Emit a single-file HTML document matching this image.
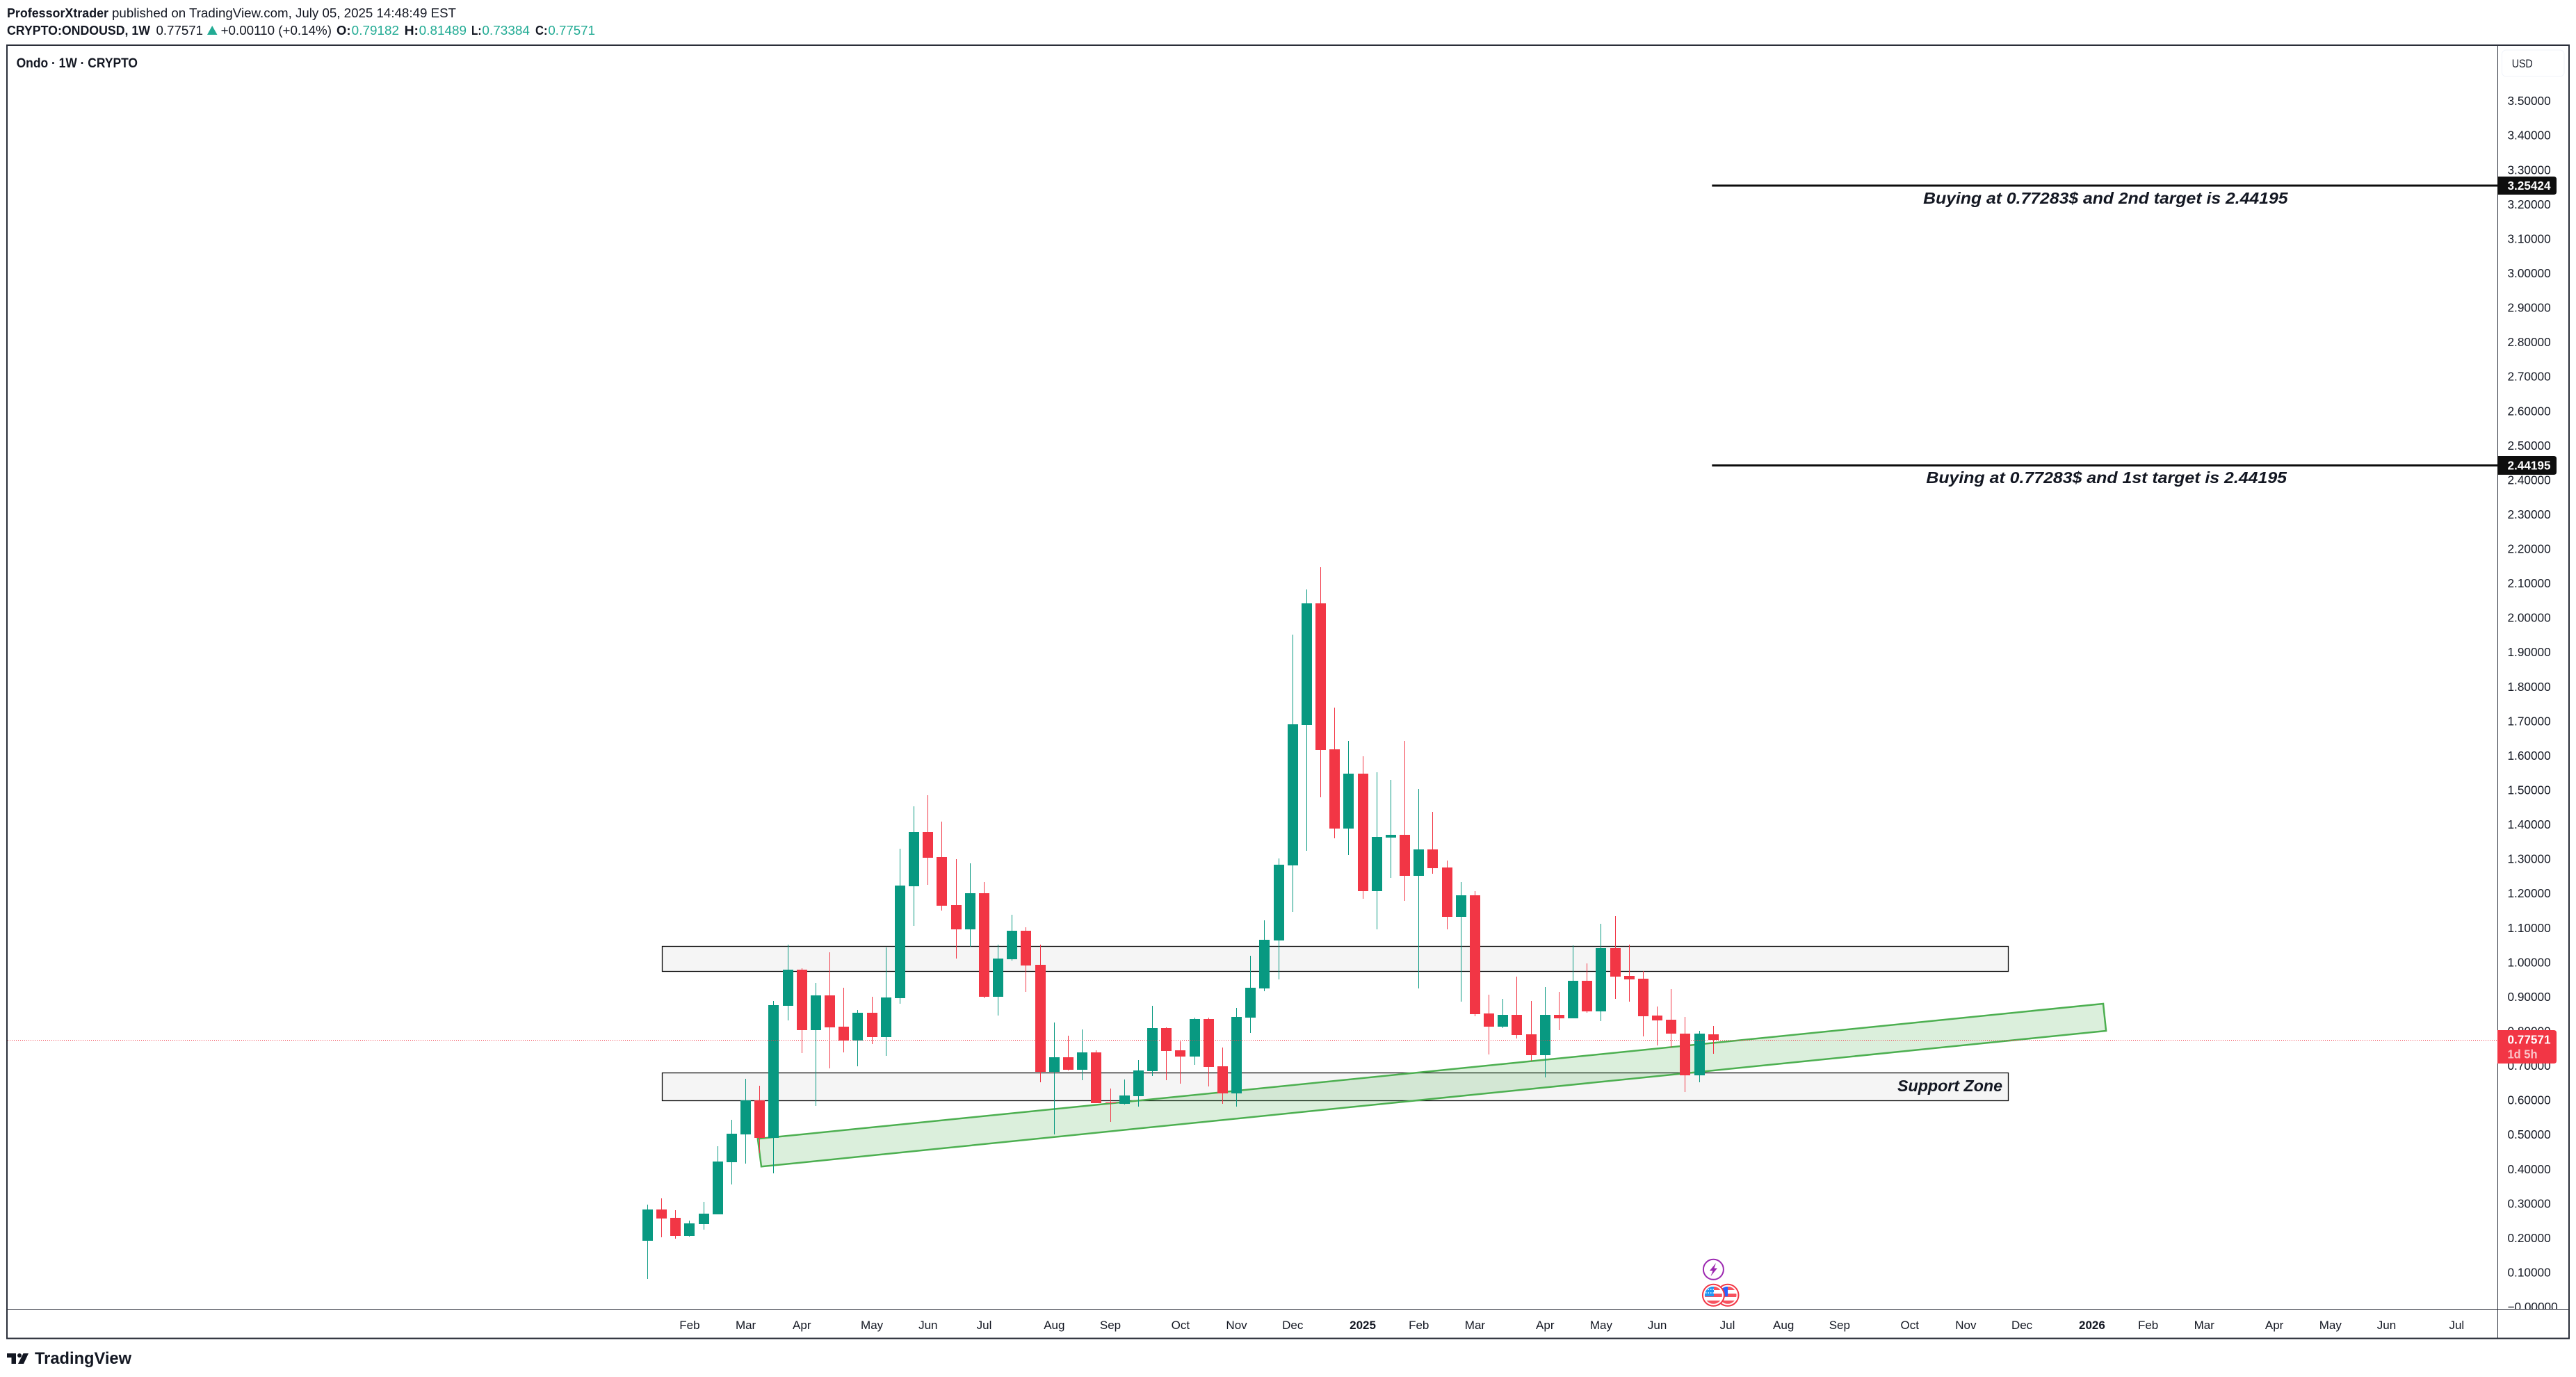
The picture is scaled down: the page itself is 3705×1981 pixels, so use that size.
<!DOCTYPE html>
<html lang="en">
<head>
<meta charset="utf-8">
<title>ONDOUSD 1W chart</title>
<style>
html,body{margin:0;padding:0;background:#fff;width:3705px;height:1981px;overflow:hidden}
svg{display:block;font-family:"Liberation Sans",sans-serif}
</style>
</head>
<body>
<svg id="chart" xmlns="http://www.w3.org/2000/svg" width="3705" height="1981" viewBox="0 0 3705 1981">
  <defs>
    <clipPath id="axis-clip"><rect x="3593" y="66" width="101" height="1817"></rect></clipPath>
    <clipPath id="flag-clip-a"><circle cx="2464.4" cy="1863.3" r="12.5"></circle></clipPath>
    <clipPath id="flag-clip-b"><circle cx="2485" cy="1863.3" r="12.5"></circle></clipPath>
  </defs>
  <rect x="0" y="0" width="3705" height="1981" fill="#ffffff"></rect>

  <text x="10" y="25" font-size="18" font-weight="700" fill="#131722" textLength="146" lengthAdjust="spacingAndGlyphs">ProfessorXtrader</text>
  <text x="161" y="25" font-size="18" fill="#131722" textLength="495" lengthAdjust="spacingAndGlyphs">published on TradingView.com, July 05, 2025 14:48:49 EST</text>

  <text x="10" y="50" font-size="18" font-weight="700" fill="#131722" textLength="206" lengthAdjust="spacingAndGlyphs">CRYPTO:ONDOUSD, 1W</text>
  <text x="224.5" y="50" font-size="18" fill="#131722" textLength="67.5" lengthAdjust="spacingAndGlyphs">0.77571</text>
  <polygon points="298,50 312.5,50 305.2,37" fill="#22ab94"></polygon>
  <text x="317.6" y="50" font-size="18" fill="#131722" textLength="159.4" lengthAdjust="spacingAndGlyphs">+0.00110 (+0.14%)</text>
  <text x="484" y="50" font-size="18" font-weight="700" fill="#131722" textLength="20.5" lengthAdjust="spacingAndGlyphs">O:</text>
  <text x="505.7" y="50" font-size="18" fill="#22ab94" textLength="68.3" lengthAdjust="spacingAndGlyphs">0.79182</text>
  <text x="581.6" y="50" font-size="18" font-weight="700" fill="#131722" textLength="20.4" lengthAdjust="spacingAndGlyphs">H:</text>
  <text x="602.7" y="50" font-size="18" fill="#22ab94" textLength="68.3" lengthAdjust="spacingAndGlyphs">0.81489</text>
  <text x="678" y="50" font-size="18" font-weight="700" fill="#131722" textLength="14.5" lengthAdjust="spacingAndGlyphs">L:</text>
  <text x="693.4" y="50" font-size="18" fill="#22ab94" textLength="68.6" lengthAdjust="spacingAndGlyphs">0.73384</text>
  <text x="770" y="50" font-size="18" font-weight="700" fill="#131722" textLength="17.5" lengthAdjust="spacingAndGlyphs">C:</text>
  <text x="788.4" y="50" font-size="18" fill="#22ab94" textLength="67.6" lengthAdjust="spacingAndGlyphs">0.77571</text>

  <g id="layer-zones"></g>
  <g id="layer-channel"></g>
  <g id="layer-targets"></g>
  <g id="layer-candles"></g>
  <g id="layer-last"></g>

  <text x="23.6" y="97" font-size="19" font-weight="700" fill="#131722" textLength="174.4" lengthAdjust="spacingAndGlyphs">Ondo · 1W · CRYPTO</text>

  <text x="2766.2" y="293" font-size="23" font-weight="700" font-style="italic" fill="#131722" textLength="524.3" lengthAdjust="spacingAndGlyphs">Buying at 0.77283$ and 2nd target is 2.44195</text>
  <text x="2770.4" y="695" font-size="23" font-weight="700" font-style="italic" fill="#131722" textLength="518.6" lengthAdjust="spacingAndGlyphs">Buying at 0.77283$ and 1st target is 2.44195</text>
  <text x="2729" y="1570" font-size="23" font-weight="700" font-style="italic" fill="#131722" textLength="151" lengthAdjust="spacingAndGlyphs">Support Zone</text>

  <g>
    <circle cx="2464.4" cy="1826.3" r="14.5" fill="#ffffff" stroke="#9c27b0" stroke-width="2"></circle>
    <polygon points="2468,1817 2459,1828 2463.5,1828 2460.5,1836 2470,1824.5 2465.5,1824.5" fill="#9c27b0"></polygon>
  </g>
  <g>
    <circle cx="2485" cy="1863.3" r="15.5" fill="#ffffff" stroke="#f23645" stroke-width="2"></circle>
    <g clip-path="url(#flag-clip-b)">
      <rect x="2472" y="1851" width="26" height="5" fill="#f7525f"></rect>
      <rect x="2472" y="1861" width="26" height="5" fill="#f7525f"></rect>
      <rect x="2472" y="1871" width="26" height="6" fill="#f7525f"></rect>
      <rect x="2472" y="1851" width="13" height="14" fill="#2962ff"></rect>
    </g>
  </g>
  <g>
    <circle cx="2464.4" cy="1863.3" r="15.5" fill="#ffffff" stroke="#f23645" stroke-width="2"></circle>
    <g clip-path="url(#flag-clip-a)">
      <rect x="2451" y="1851" width="27" height="5" fill="#f7525f"></rect>
      <rect x="2451" y="1861" width="27" height="5" fill="#f7525f"></rect>
      <rect x="2451" y="1871" width="27" height="6" fill="#f7525f"></rect>
      <rect x="2451" y="1851" width="14" height="14" fill="#2196f3"></rect>
      <line x1="2453" y1="1855" x2="2465" y2="1855" stroke="#fff" stroke-width="1.5" stroke-dasharray="1.5 2"></line>
      <line x1="2453" y1="1860" x2="2465" y2="1860" stroke="#fff" stroke-width="1.5" stroke-dasharray="1.5 2"></line>
    </g>
  </g>

  <rect x="10" y="65" width="3685" height="1860.5" fill="none" stroke="#2a2e39" stroke-width="2"></rect>
  <line x1="3592.5" y1="65" x2="3592.5" y2="1925" stroke="#2a2e39" stroke-width="1"></line>

  <g id="layer-price-axis" clip-path="url(#axis-clip)"></g>
  <line x1="10" y1="1883.5" x2="3695" y2="1883.5" stroke="#2a2e39" stroke-width="1"></line>
  <g id="layer-time-axis"></g>
  <g id="layer-tags"></g>

  <rect x="3598.5" y="72" width="89.5" height="38" rx="6" fill="#ffffff" stroke="#f0f3fa" stroke-width="1"></rect>
  <text x="3612.7" y="97" font-size="17" fill="#131722" textLength="30" lengthAdjust="spacingAndGlyphs">USD</text>

  <g>
    <polygon points="10,1947 23,1947 23,1962 16.5,1962 16.5,1953 10,1953" fill="#131722"></polygon>
    <circle cx="28" cy="1950" r="3" fill="#131722"></circle>
    <polygon points="33.5,1947 41,1947 34,1962 26,1962" fill="#131722"></polygon>
    <text x="50" y="1962" font-size="24" font-weight="700" fill="#131722" textLength="139" lengthAdjust="spacingAndGlyphs">TradingView</text>
  </g>
</svg>

<script>
// ---- OHLC, one entry per weekly bar ----
const opens = [.1918,.2826,.2584,.2059,.2402,.2684,.4198,.5004,.5993,.4904,.8737,.9786,.8030,.9039,.8131,.7728,.8535,.7829,.8958,1.2206,1.3780,1.3054,1.1662,1.0956,1.2005,.8999,1.0088,1.0915,.9927,.6820,.7244,.6881,.7385,.5932,.5892,.6114,.6840,.8091,.7445,.7264,.8353,.6981,.6195,.8394,.9241,1.0633,1.2811,1.6886,2.0417,1.6181,1.3881,1.5475,1.2065,1.3619,1.3699,1.2509,1.3276,1.2751,1.1319,1.1944,.8515,.8131,.8474,.7909,.7304,.8474,.8373,.9463,.8575,1.0411,.9604,.9523,.8454,.8333,.7930,.6719,.79182];
const highs = [.2967,.3148,.2806,.2503,.3048,.4662,.5428,.6618,.6417,.8878,1.0512,.9826,.9402,1.0290,.9261,.8615,.8999,1.0431,1.3296,1.4526,1.4849,1.4082,1.2993,1.2872,1.2327,1.0512,1.1379,1.1016,1.0512,.8252,.7869,.8051,.7445,.6336,.6598,.7163,.8737,.8111,.7708,.8394,.8394,.7526,.8676,1.0189,1.1218,1.3013,1.9509,2.0820,2.1466,1.7391,1.6422,1.5979,1.5515,1.5293,1.6422,1.5031,1.4365,1.2953,1.2327,1.2065,.9059,.8938,.9584,.8878,.9281,.9140,1.0492,.9967,1.1117,1.1339,1.0512,.9745,.8716,.9221,.8414,.8010,.81489];
const lows = [.0808,.2019,.1978,.2039,.2241,.2684,.3552,.4157,.4460,.3875,.8313,.7365,.5832,.6921,.7385,.6981,.7627,.7284,.8797,1.1056,1.2247,1.1500,1.0108,1.0451,.8958,.8454,1.0048,.9140,.6517,.5004,.6860,.6578,.5912,.5368,.5872,.5811,.6699,.6578,.6477,.7022,.6396,.5892,.5811,.7950,.9159,.9503,1.1460,1.3235,1.4789,1.3598,1.3114,1.1843,1.0956,1.2448,1.1783,.9241,1.2570,1.0956,.8858,.8434,.7324,.8091,.7788,.7143,.6659,.8030,.8373,.8535,.8293,.8938,.8858,.7849,.7587,.7526,.6235,.6517,.73384];
const closes = [.2826,.2563,.2059,.2422,.2705,.4218,.5025,.5993,.4904,.8757,.9786,.8030,.9039,.8111,.7728,.8535,.7829,.8979,1.2227,1.3780,1.3033,1.1642,1.0956,1.2005,.8999,1.0108,1.0915,.9907,.6820,.7244,.6881,.7385,.5912,.5912,.6134,.6860,.8091,.7425,.7264,.8353,.6961,.6195,.8414,.9261,1.0653,1.2832,1.6907,2.0417,1.6160,1.3881,1.5475,1.2065,1.3639,1.3699,1.2509,1.3276,1.2731,1.1319,1.1944,.8494,.8131,.8474,.7889,.7304,.8474,.8373,.9463,.8575,1.0411,.9584,.9503,.8434,.8313,.7930,.6719,.7930,.77571];

// ---- Axis labels ----
const priceTickLabels = ["3.50000","3.40000","3.30000","3.20000","3.10000","3.00000","2.90000","2.80000","2.70000","2.60000","2.50000","2.40000","2.30000","2.20000","2.10000","2.00000","1.90000","1.80000","1.70000","1.60000","1.50000","1.40000","1.30000","1.20000","1.10000","1.00000","0.90000","0.80000","0.70000","0.60000","0.50000","0.40000","0.30000","0.20000","0.10000","−0.00000"];
const timeTickLabels = ["Feb","Mar","Apr","May","Jun","Jul","Aug","Sep","Oct","Nov","Dec","2025","Feb","Mar","Apr","May","Jun","Jul","Aug","Sep","Oct","Nov","Dec","2026","Feb","Mar","Apr","May","Jun","Jul"];
const timeTickBars = [3,7,11,16,20,24,29,33,38,42,46,51,55,59,64,68,72,77,81,85,90,94,98,103,107,111,116,120,124,129];

// ---- Drawing anchors in chart units (bar index / price) ----
const zoneStartBar = 1.04;
const zoneEndBar = 97.04;
const upperZonePrices = [1.0465, .9739];
const lowerZonePrices = [.6794, .5987];
const channelBars = [7.86, 103.8, 104.0, 8.11];
const channelPrices = [.4878, .8797, .8010, .4070];
const targetStartBar = 75.9;
const targetPrices = [3.25424, 2.44195];
const lastPrice = .77571;
const lastPriceCountdown = "1d 5h";

// ---- Axis functions ----
const xScale = bar => 931.4 + 20.17 * bar;
const yScale = price => 1880.07 - 495.7 * price;

const SVG_NS = "http://www.w3.org/2000/svg";
function make(tag, attrs, parent, text) {
  const node = document.createElementNS(SVG_NS, tag);
  for (const key in attrs) node.setAttribute(key, attrs[key]);
  if (text !== undefined) node.textContent = text;
  parent.appendChild(node);
  return node;
}

const zonesLayer = document.getElementById("layer-zones");
const channelLayer = document.getElementById("layer-channel");
const targetsLayer = document.getElementById("layer-targets");
const candlesLayer = document.getElementById("layer-candles");
const lastLayer = document.getElementById("layer-last");
const priceAxisLayer = document.getElementById("layer-price-axis");
const timeAxisLayer = document.getElementById("layer-time-axis");
const tagsLayer = document.getElementById("layer-tags");

// Zones
[upperZonePrices, lowerZonePrices].forEach(function (zone, i) {
  const top = yScale(zone[0]);
  const bottom = yScale(zone[1]);
  const el = make("rect", {
    x: Math.round(xScale(zoneStartBar)) + 0.5,
    y: Math.round(top) + 0.5,
    width: Math.round(xScale(zoneEndBar) - xScale(zoneStartBar)),
    height: Math.round(bottom - top),
    fill: "#f5f5f5",
    stroke: "#0c0c0c",
    "stroke-width": 1.3
  }, zonesLayer);
  
  
});

// Channel
const channelPoints = channelBars.map(function (b, i) {
  return xScale(b).toFixed(1) + "," + yScale(channelPrices[i]).toFixed(1);
}).join(" ");
const channelEl = make("polygon", {
  points: channelPoints,
  fill: "rgba(76,175,80,0.2)",
  stroke: "#4caf50",
  "stroke-width": 2.5
}, channelLayer);



// Target lines
targetPrices.forEach(function (price) {
  const y = yScale(price);
  const el = make("line", {
    x1: xScale(targetStartBar),
    y1: y,
    x2: 3592,
    y2: y,
    stroke: "#0c0c0c",
    "stroke-width": 3
  }, targetsLayer);
  
  
});

// Candles
closes.forEach(function (close, i) {
  const open = opens[i];
  const color = close >= open ? "#089981" : "#f23645";
  const left = Math.round(xScale(i) - 7.5);
  const wick = make("rect", {
    x: left + 7,
    y: Math.round(yScale(highs[i])),
    width: 1,
    height: Math.max(1, Math.round(yScale(lows[i])) - Math.round(yScale(highs[i]))),
    fill: color,
    "shape-rendering": "crispEdges"
  }, candlesLayer);
  
  
  const bodyTop = Math.round(yScale(Math.max(open, close)));
  const bodyBottom = Math.round(yScale(Math.min(open, close)));
  const body = make("rect", {
    x: left,
    y: bodyTop,
    width: 15,
    height: Math.max(1, bodyBottom - bodyTop),
    fill: color,
    "shape-rendering": "crispEdges"
  }, candlesLayer);
  
  
});

// Last price line
const lastLine = make("line", {
  x1: 11,
  y1: Math.round(yScale(lastPrice)) + 0.5,
  x2: 3592,
  y2: Math.round(yScale(lastPrice)) + 0.5,
  stroke: "#f23645",
  "stroke-width": 1,
  "stroke-dasharray": "1 2"
}, lastLayer);



// Price ticks
priceTickLabels.forEach(function (label) {
  const value = parseFloat(label.replace("−", "-"));
  const el = make("text", {
    x: 3606.5,
    y: yScale(value) + 6,
    "font-size": 17.2,
    fill: "#131722"
  }, priceAxisLayer, label);
  
  
});

// Time ticks
timeTickLabels.forEach(function (label, i) {
  const isYear = label.length === 4;
  const el = make("text", {
    x: xScale(timeTickBars[i]),
    y: 1912,
    "font-size": 17,
    "font-weight": isYear ? 700 : 400,
    fill: "#131722",
    "text-anchor": "middle"
  }, timeAxisLayer, label);
  
  
});

// Price tags
function tagPath(top, bottom) {
  return "M3592 " + top + " H3673 Q3677 " + top + " 3677 " + (top + 4) +
         " V" + (bottom - 4) + " Q3677 " + bottom + " 3673 " + bottom + " H3592 Z";
}
targetPrices.forEach(function (price) {
  const y = yScale(price);
  const box = make("path", { d: tagPath(Math.round(y - 13.3), Math.round(y + 13.3)), fill: "#0e0e0e" }, tagsLayer);
  
  
  const txt = make("text", {
    x: 3606.5,
    y: y + 6,
    "font-size": 17.2,
    "font-weight": 700,
    fill: "#ffffff",
    textLength: 62,
    lengthAdjust: "spacingAndGlyphs"
  }, tagsLayer, price.toFixed(5));
  
  
});
const lastY = yScale(lastPrice);
const lastBox = make("path", { d: tagPath(Math.round(lastY - 14), Math.round(lastY + 34)), fill: "#f23645" }, tagsLayer);


const lastTxt = make("text", {
  x: 3606.5,
  y: lastY + 6,
  "font-size": 17.2,
  "font-weight": 700,
  fill: "#ffffff",
  textLength: 62,
  lengthAdjust: "spacingAndGlyphs"
}, tagsLayer, lastPrice.toFixed(5));


const countdownTxt = make("text", {
  x: 3606.5,
  y: lastY + 27,
  "font-size": 17.2,
  "font-weight": 700,
  fill: "rgba(255,255,255,0.7)",
  textLength: 43,
  lengthAdjust: "spacingAndGlyphs"
}, tagsLayer, lastPriceCountdown);


</script>
</body>
</html>
